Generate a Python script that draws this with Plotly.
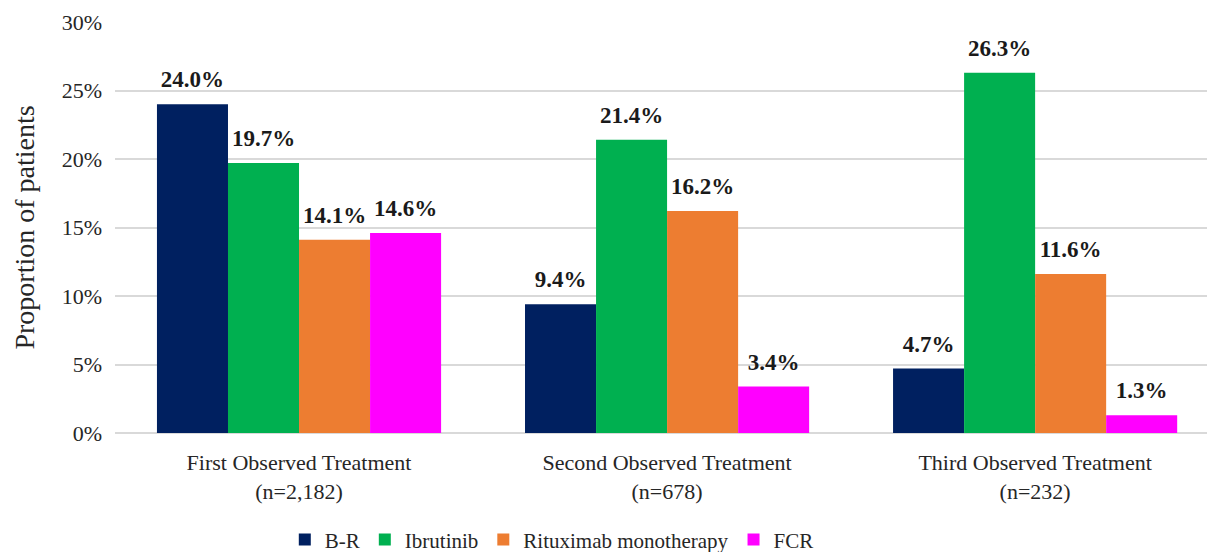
import plotly.graph_objects as go

categories = [
    "First Observed Treatment<br>(n=2,182)",
    "Second Observed Treatment<br>(n=678)",
    "Third Observed Treatment<br>(n=232)",
]
series_names = ["B-R", "Ibrutinib", "Rituximab monotherapy", "FCR"]
br = [24.0, 9.4, 4.7]
ibrutinib = [19.7, 21.4, 26.3]
rituximab = [14.1, 16.2, 11.6]
fcr = [14.6, 3.4, 1.3]
colors = ["#002060", "#00B050", "#ED7D31", "#FF00FF"]
y_ticks = [0, 5, 10, 15, 20, 25, 30]
y_tick_text = [f"{v}%" for v in y_ticks]

serif = "Liberation Serif"
gap = 0.228

fig = go.Figure()
all_series = [br, ibrutinib, rituximab, fcr]
for name, vals, col in zip(series_names, all_series, colors):
    fig.add_trace(go.Bar(
        x=categories, y=vals, name=name, offsetgroup=name,
        marker=dict(color=col, line=dict(width=0)),
    ))
# value labels, placed over each bar via grouped scatter
for name, vals in zip(series_names, all_series):
    fig.add_trace(go.Scatter(
        x=categories, y=vals, offsetgroup=name, mode="text+markers",
        marker=dict(size=16, opacity=0),
        text=[f"<b>{v:.1f}%</b>" for v in vals],
        textposition="top center",
        textfont=dict(family=serif, size=23, color="#1a1a1a"),
        showlegend=False, hoverinfo="skip", cliponaxis=False,
    ))

fig.update_layout(
    width=1207, height=552,
    margin=dict(l=115, r=0, t=22, b=119),
    paper_bgcolor="white", plot_bgcolor="white",
    barmode="group", bargap=gap, bargroupgap=0,
    scattermode="group", scattergap=gap,
    font=dict(family=serif, size=22, color="#262626"),
    xaxis=dict(range=[-0.5, 2.467], showgrid=False, showline=False,
               tickfont=dict(family=serif, size=22), ticks="",
               ticklabelstandoff=14, automargin=False),
    yaxis=dict(range=[0, 30], tickvals=y_ticks, ticktext=y_tick_text,
               showgrid=True, gridcolor="#D9D9D9", gridwidth=2,
               zeroline=True, zerolinecolor="#D9D9D9", zerolinewidth=2,
               tickfont=dict(family=serif, size=22), ticklabelstandoff=12,
               automargin=False,
               title=dict(text="Proportion of patients",
                          font=dict(family=serif, size=28), standoff=18)),
    legend=dict(orientation="h", x=0.4, xanchor="center",
                yref="container", y=0.022, yanchor="middle",
                font=dict(family=serif, size=21), itemwidth=30, traceorder="normal"),
    showlegend=True,
)

fig.write_html("out.html")
